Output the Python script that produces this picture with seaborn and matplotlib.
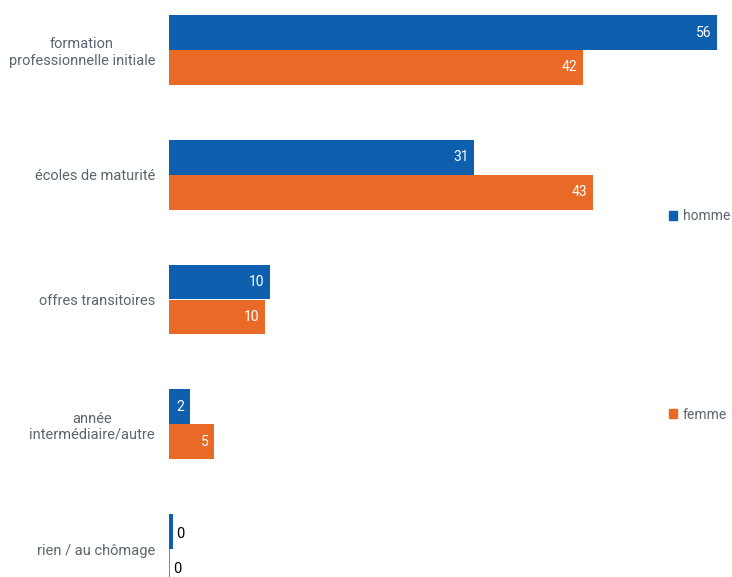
import pandas as pd
import numpy as np
import seaborn as sns
import matplotlib.pyplot as plt
from matplotlib.patches import Patch

# donnees (en %)
categories = ["formation\nprofessionnelle initiale", "écoles de maturité",
              "offres transitoires", "année\nintermédiaire/autre",
              "rien / au chômage"]
homme = [56.0, 31.2, 10.3, 2.1, 0.4]
femme = [42.3, 43.3, 9.8, 4.6, 0.1]
series = ["homme", "femme"]
couleurs = ["#0E60AF", "#E86A26"]

df = pd.DataFrame({"categorie": categories * 2,
                   "valeur": homme + femme,
                   "sexe": ["homme"] * 5 + ["femme"] * 5})

sns.set_style("white")
plt.rcParams['font.family'] = ['Roboto', 'DejaVu Sans']
gris = "#5B6670"

fig = plt.figure(figsize=(7.32, 5.77), dpi=100)
ax = fig.add_axes([169 / 732, 0, 563 / 732, 1])

sns.barplot(data=df, y="categorie", x="valeur", hue="sexe", hue_order=series,
            palette=couleurs, width=0.56, orient="h", ax=ax, legend=False,
            saturation=1, linewidth=0)

ax.set_xlim(0, 57.5)
ax.set_ylim((577 - 50) / 124.75, -50 / 124.75)
sns.despine(ax=ax, left=True, bottom=True)
ax.set_xticks([])
ax.set_xlabel("")
ax.set_ylabel("")
ax.tick_params(axis="y", length=0, pad=10, labelsize=10.5, labelcolor=gris)
for t in ax.get_yticklabels():
    t.set_multialignment("center")

# etiquettes des valeurs
for cont in ax.containers:
    for rect in cont:
        v = rect.get_width()
        yc = rect.get_y() + rect.get_height() / 2
        if v >= 1:
            ax.annotate(f"{v:.0f}", (v, yc), xytext=(-4, 0), textcoords="offset points",
                        ha="right", va="center", color="white", fontsize=10)
        else:
            ax.annotate(f"{v:.0f}", (v, yc), xytext=(2, -2), textcoords="offset points",
                        ha="left", va="center", color="black", fontsize=10.5)

handles = [Patch(color=c, label=s) for c, s in zip(couleurs, series)]
fig.legend(handles=handles, loc="upper left", bbox_to_anchor=(669 / 732, 1 - 209 / 577),
           frameon=False, fontsize=10, labelcolor=gris, handlelength=0.6,
           handleheight=0.6, handletextpad=0.4, labelspacing=13.3,
           borderpad=0, borderaxespad=0)

fig.savefig("out.png", dpi=100)
